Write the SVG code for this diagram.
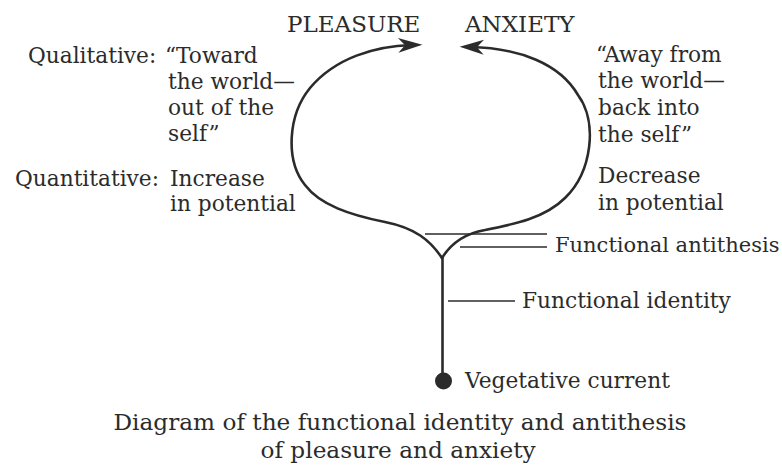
<svg xmlns="http://www.w3.org/2000/svg" width="782" height="470" viewBox="0 0 782 470">
<defs>
<style>
text { font-family: "DejaVu Serif", "Liberation Serif", serif; font-size: 21.7px; fill: #2b2b2b; }
.big { font-size: 23px; }
.cap { font-size: 23.2px; }
.fa { font-size: 21px; }
.curve { fill: none; stroke: #2b2b2b; stroke-width: 2.6; stroke-linecap: round; }
.tick { fill: none; stroke: #2b2b2b; stroke-width: 1.6; }
</style>
<marker id="arr" markerUnits="userSpaceOnUse" markerWidth="30" markerHeight="20" viewBox="-14 -8 26 16" refX="0" refY="0" orient="auto">
<path d="M9,0 L-12,-6.5 L-6,0 L-12,6.5 Z" fill="#2b2b2b"/>
</marker>
</defs>
<rect width="782" height="470" fill="#ffffff"/>

<g id="connectors">
<path id="loop-pleasure" class="curve" d="M442,258 C430,240 415,228 385,222 C350,215 320,205 305,185 C285,160 288,115 310,88 C335,58 375,46 412,45" marker-end="url(#arr)"/>
<path id="loop-anxiety" class="curve" d="M442,258 C450,245 462,234 485,230 C515,224 545,218 565,198 C592,172 598,122 578,95 C560,64 520,48 470,47" marker-end="url(#arr)"/>
<line id="stem" class="curve" x1="442.5" y1="258" x2="442.5" y2="380"/>
<line class="tick" x1="425" y1="234" x2="547" y2="234"/>
<line class="tick" x1="460" y1="247" x2="547" y2="247"/>
<line class="tick" x1="448" y1="301" x2="515" y2="301"/>
</g>

<g id="node-pleasure"><text class="big" x="287" y="32">PLEASURE</text></g>
<g id="node-anxiety"><text class="big" x="465" y="32">ANXIETY</text></g>

<g id="node-left-text">
<text x="28" y="63">Qualitative:</text>
<text x="165" y="63">“Toward</text>
<text x="168" y="89">the world—</text>
<text x="168" y="115">out of the</text>
<text x="168" y="141">self”</text>
<text x="15" y="186">Quantitative:</text>
<text x="170" y="186">Increase</text>
<text x="170" y="211">in potential</text>
</g>

<g id="node-right-text">
<text x="596" y="62">“Away from</text>
<text x="598" y="88">the world—</text>
<text x="598" y="115">back into</text>
<text x="598" y="142">the self”</text>
<text x="598" y="183">Decrease</text>
<text x="598" y="210">in potential</text>
</g>

<g id="node-antithesis"><text class="fa" x="555" y="252">Functional antithesis</text></g>
<g id="node-identity"><text x="522" y="308">Functional identity</text></g>
<g id="node-vegetative">
<circle cx="443.5" cy="381" r="8.5" fill="#2b2b2b"/>
<text x="465" y="388">Vegetative current</text>
</g>

<g id="caption">
<text class="cap" x="400" y="430" text-anchor="middle">Diagram of the functional identity and antithesis</text>
<text class="cap" x="398" y="458" text-anchor="middle">of pleasure and anxiety</text>
</g>
</svg>
